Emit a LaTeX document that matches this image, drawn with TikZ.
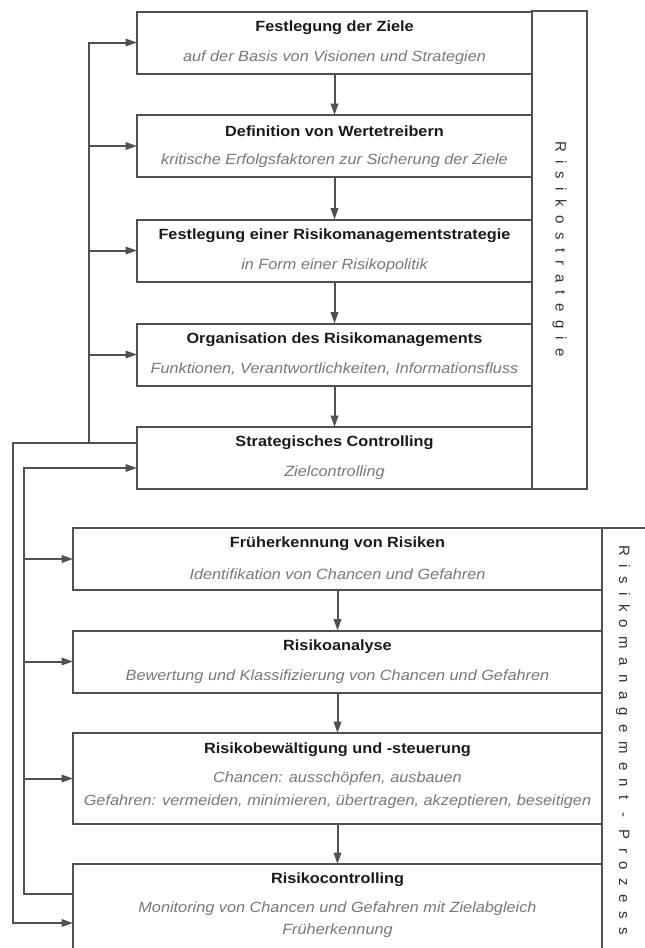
\documentclass[tikz,border=0pt]{standalone}
\usepackage{fontspec}
\setmainfont{Liberation Sans}[FakeStretch=1.1]
\newfontfamily\stripfont{Liberation Sans}[LetterSpace=56]
\usetikzlibrary{arrows.meta,calc}

\definecolor{linegray}{HTML}{505050}
\definecolor{headgray}{HTML}{1A1A1A}
\definecolor{subgray}{HTML}{777777}
\definecolor{labelgray}{HTML}{333333}

\tikzset{
  stepbox/.style={draw=linegray, line width=2pt, inner sep=0pt, outer sep=0pt,
    minimum height=#1},
  topbox/.style={stepbox=#1, minimum width=395pt},
  lowbox/.style={stepbox=#1, minimum width=529pt},
  stripbox/.style={draw=linegray, line width=2.6pt, inner sep=0pt, outer sep=0pt},
  headtext/.style={inner sep=0pt, text=headgray,
    font=\fontsize{14.8}{17}\selectfont\bfseries},
  subtext/.style={inner sep=0pt, text=subgray,
    font=\fontsize{14.8}{17}\selectfont\itshape},
  striplabel/.style={inner sep=0pt, text=labelgray, rotate=-90,
    font=\fontsize{15}{17}\selectfont\stripfont},
  conn/.style={draw=linegray, line width=2pt},
  arr/.style={conn, -{Triangle[length=11.5pt,width=7.5pt]}}
}

\begin{document}
\begin{tikzpicture}[x=1pt, y=-1pt]
\useasboundingbox (0,0) rectangle (645,948);

% strategy phase
\node[topbox=62pt] (b1) at (334.5,42.5) {};
\node[topbox=62pt] (b2) at (334.5,146) {};
\node[topbox=62pt] (b3) at (334.5,250.5) {};
\node[topbox=62pt] (b4) at (334.5,354.5) {};
\node[topbox=62pt] (b5) at (334.5,458) {};
\node[stripbox, minimum width=55pt, minimum height=478pt] (s1) at (559.5,250) {};
\node[striplabel] (l1) at (559.5,249) {Risikostrategie};

\node[headtext] (t1) at ($(b1.north)+(0,16)$) {Festlegung der Ziele};
\node[subtext]  (u1) at ($(b1.north)+(0,46)$) {auf der Basis von Visionen und Strategien};
\node[headtext] (t2) at ($(b2.north)+(0,16)$) {Definition von Wertetreibern};
\node[subtext]  (u2) at ($(b2.north)+(0,46)$) {kritische Erfolgsfaktoren zur Sicherung der Ziele};
\node[headtext] (t3) at ($(b3.north)+(0,16)$) {Festlegung einer Risikomanagementstrategie};
\node[subtext]  (u3) at ($(b3.north)+(0,46)$) {in Form einer Risikopolitik};
\node[headtext] (t4) at ($(b4.north)+(0,16)$) {Organisation des Risikomanagements};
\node[subtext]  (u4) at ($(b4.north)+(0,46)$) {Funktionen, Verantwortlichkeiten, Informationsfluss};
\node[headtext] (t5) at ($(b5.north)+(0,16)$) {Strategisches Controlling};
\node[subtext]  (u5) at ($(b5.north)+(0,46)$) {Zielcontrolling};

% risk management process
\node[lowbox=62pt] (b6) at (337.5,559) {};
\node[lowbox=62pt] (b7) at (337.5,661.5) {};
\node[lowbox=91pt] (b8) at (337.5,778.5) {};
\node[lowbox=96pt] (b9) at (337.5,912) {};
\node[stripbox, minimum width=98pt, minimum height=472pt] (s2) at (651,764) {};
\node[striplabel] (l2) at (623,740) {Risikomanagement - Prozess};

\node[headtext] (t6) at ($(b6.north)+(0,16)$) {Früherkennung von Risiken};
\node[subtext]  (u6) at ($(b6.north)+(0,46)$) {Identifikation von Chancen und Gefahren};
\node[headtext] (t7) at ($(b7.north)+(0,16)$) {Risikoanalyse};
\node[subtext]  (u7) at ($(b7.north)+(0,46)$) {Bewertung und Klassifizierung von Chancen und Gefahren};
\node[headtext] (t8) at ($(b8.north)+(0,17)$) {Risikobewältigung und -steuerung};
\node[subtext]  (u8) at ($(b8.north)+(0,46)$) {Chancen: ausschöpfen, ausbauen};
\node[subtext]  (v8) at ($(b8.north)+(0,69)$) {Gefahren: vermeiden, minimieren, übertragen, akzeptieren, beseitigen};
\node[headtext] (t9) at ($(b9.north)+(0,16)$) {Risikocontrolling};
\node[subtext]  (u9) at ($(b9.north)+(0,45)$) {Monitoring von Chancen und Gefahren mit Zielabgleich};
\node[subtext]  (v9) at ($(b9.north)+(0,67)$) {Früherkennung};

% main flow
\draw[arr] (b1) -- (b2);
\draw[arr] (b2) -- (b3);
\draw[arr] (b3) -- (b4);
\draw[arr] (b4) -- (b5);
\draw[arr] (b6) -- (b7);
\draw[arr] (b7) -- (b8);
\draw[arr] (b8) -- (b9);

% feedback from strategic controlling
\coordinate (aout) at ($(b5.north west)+(0,16)$);
\coordinate (ajoin) at (89,443);
\coordinate (acorner) at (13,443);
\draw[arr] (aout) -- (acorner) |- ($(b9.north west)+(0,59)$);
\draw[arr] (ajoin) |- (b1.west);
\draw[arr] (ajoin) |- (b2.west);
\draw[arr] (ajoin) |- (b3.west);
\draw[arr] (ajoin) |- (b4.west);

% feedback from risk controlling
\coordinate (bout) at ($(b9.north west)+(0,30)$);
\coordinate (bcorner) at (24,894);
\draw[arr] (bout) -- (bcorner) |- ($(b5.north west)+(0,41)$);
\draw[arr] (bcorner) |- (b6.west);
\draw[arr] (bcorner) |- (b7.west);
\draw[arr] (bcorner) |- (b8.west);
\end{tikzpicture}
\end{document}
